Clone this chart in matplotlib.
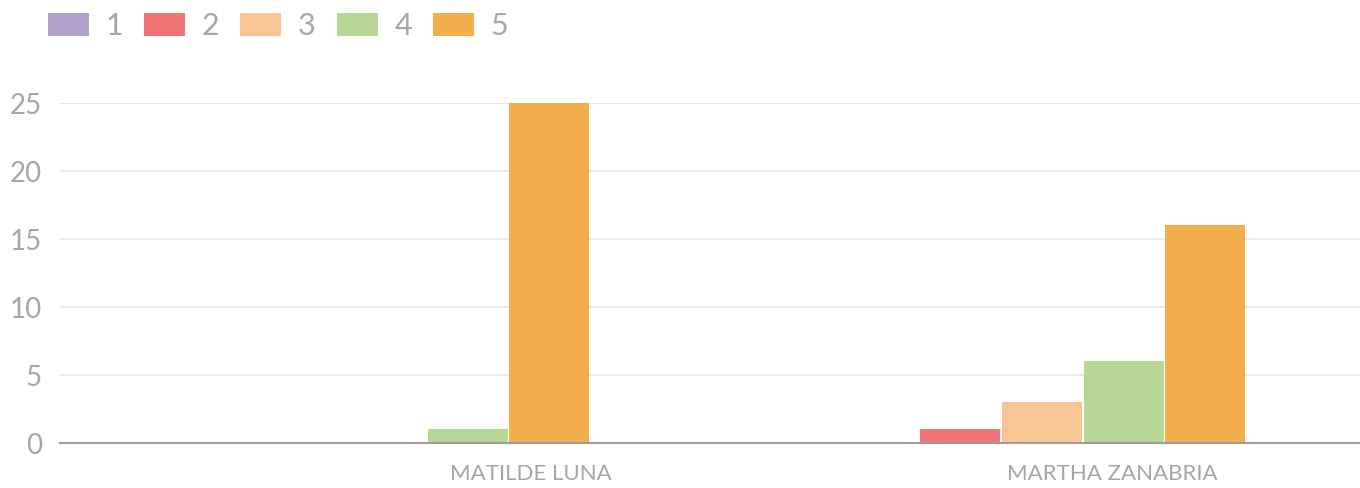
import numpy as np
import matplotlib
matplotlib.use("Agg")
import matplotlib.pyplot as plt
from matplotlib.patches import Patch

plt.rcParams['font.family'] = ['Lato', 'DejaVu Sans']

# data
people = ['MATILDE LUNA', 'MARTHA ZANABRIA']
series = ['1', '2', '3', '4', '5']
vals_1 = [0, 0]
vals_2 = [0, 1]
vals_3 = [0, 3]
vals_4 = [1, 6]
vals_5 = [25, 16]
colors = ['#b2a1cb', '#f07476', '#f9c593', '#b8d796', '#f4ae4c']

txt = '#a6a6a6'

fig = plt.figure(figsize=(13.6, 4.88), dpi=100)
ax = fig.add_axes([60/1360, 45/488, 1300/1360, 340/488])

x = np.arange(len(people))
w = 0.122
allvals = [vals_1, vals_2, vals_3, vals_4, vals_5]
for i, v in enumerate(allvals):
    ax.bar(x + (i - 2) * 0.1245, v, width=w, color=colors[i], edgecolor='none', zorder=3)

ax.set_xlim(-0.497, 1.485)
ax.set_ylim(0, 25)
ax.set_yticks([0, 5, 10, 15, 20, 25])
ax.yaxis.grid(True, color='#e8e8e8', linewidth=1.2, zorder=0)
ax.axhline(25, color='#d9d9d9', linewidth=1.2, zorder=1)

# category labels sit a bit to the right of the groups in the original
ax.set_xticks([0.221, 1.108])
ax.set_xticklabels(people, fontsize=16, color=txt)
ax.tick_params(axis='x', length=0, pad=15)
ax.tick_params(axis='y', length=0, labelsize=20, labelcolor=txt, pad=13)

for s in ['top', 'right', 'left']:
    ax.spines[s].set_visible(False)
ax.spines['bottom'].set_color('#a39a9e')
ax.spines['bottom'].set_linewidth(1.5)
ax.spines['bottom'].set_zorder(4)

handles = [Patch(facecolor=c, edgecolor='none') for c in colors]
fig.legend(handles, series, loc='upper left', bbox_to_anchor=(48/1360, 1 - 12/488),
           ncol=5, frameon=False, fontsize=22, labelcolor=txt,
           borderpad=0, borderaxespad=0,
           handlelength=1.34, handleheight=0.8, handletextpad=0.55, columnspacing=0.68)

fig.savefig('out.png', dpi=100)
